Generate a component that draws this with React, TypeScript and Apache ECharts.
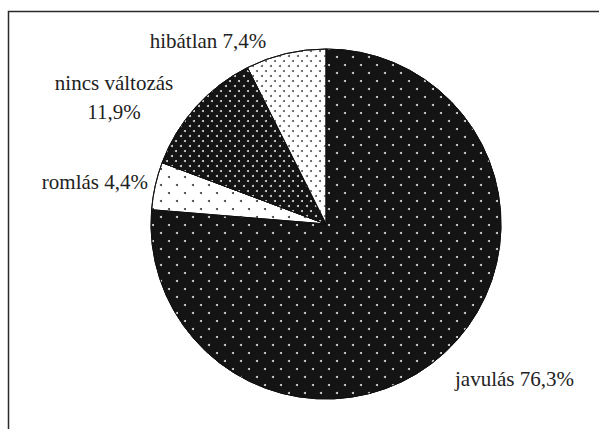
import React, { useEffect, useRef } from "react";
import * as echarts from "echarts";

const categories = ["javulás", "romlás", "nincs változás", "hibátlan"];
const values = [76.3, 4.4, 11.9, 7.4];
const separators = [" ", " ", "\n", " "];

// label anchor positions (pixels) and alignment
const labelPos: [number, number, string][] = [
  [455, 379, "left"],
  [148, 182, "right"],
  [114, 97, "center"],
  [208, 41, "center"],
];

function lattice(d: number, row: number, pitch: number) {
  return {
    symbol: "circle",
    symbolSize: 1,
    dashArrayX: [
      [d, row - d],
      [0, row / 2, d, row / 2 - d],
    ],
    dashArrayY: [d, pitch - d],
  };
}

const styles = [
  { color: "#141414", decal: { ...lattice(1.7, 14.8, 7.5), color: "#e8e8e8" } },
  { color: "#ffffff", decal: { ...lattice(1.6, 14.8, 7.5), color: "#333333" } },
  { color: "#141414", decal: { ...lattice(1.4, 8, 4), color: "#e0e0e0" } },
  { color: "#ffffff", decal: { ...lattice(1.6, 8, 4), color: "#555555" } },
];

const fmt = (i: number) =>
  `${categories[i]}${separators[i]}${values[i].toFixed(1).replace(".", ",")}%`;

export default function App() {
  const ref = useRef<HTMLDivElement>(null);
  useEffect(() => {
    document.body.style.margin = "0";
    const chart = echarts.init(ref.current!, undefined, { renderer: "svg" });
    chart.setOption({
      animation: false,
      backgroundColor: "#ffffff",
      graphic: [
        {
          type: "rect",
          shape: { x: 8.5, y: 11.5, width: 620, height: 440 },
          style: { fill: "none", stroke: "#2a2a2a", lineWidth: 1.5 },
          silent: true,
        },
        ...categories.map((_, i) => ({
          type: "text",
          x: labelPos[i][0],
          y: labelPos[i][1],
          silent: true,
          style: {
            text: fmt(i),
            font: "21px 'Liberation Serif'",
            fill: "#222222",
            lineHeight: 29,
            align: labelPos[i][2],
            verticalAlign: "middle",
          },
        })),
      ],
      series: [
        {
          type: "pie",
          center: [326, 224],
          radius: 175,
          startAngle: 90,
          clockwise: true,
          label: { show: false },
          labelLine: { show: false },
          itemStyle: { borderColor: "#111111", borderWidth: 1 },
          emphasis: { disabled: true },
          data: categories.map((name, i) => ({
            name,
            value: values[i],
            itemStyle: { color: styles[i].color, decal: styles[i].decal },
          })),
        },
      ],
    });
    return () => chart.dispose();
  }, []);
  return <div ref={ref} style={{ width: 599, height: 429 }} />;
}
